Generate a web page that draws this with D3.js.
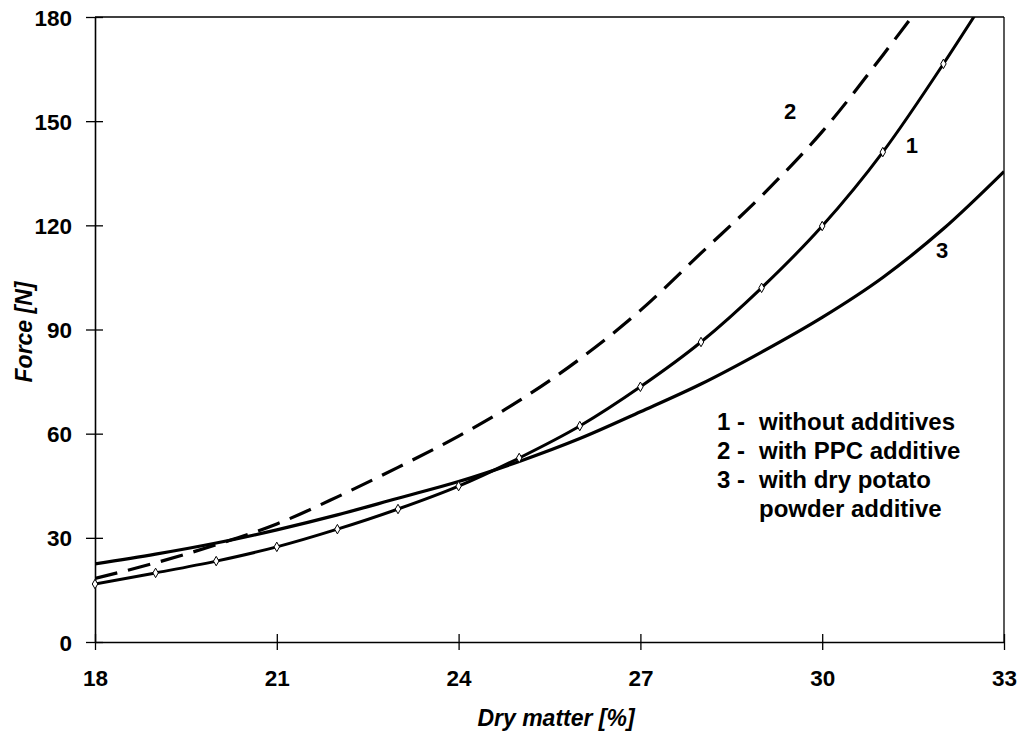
<!DOCTYPE html>
<html>
<head>
<meta charset="utf-8">
<script src="https://cdn.jsdelivr.net/npm/d3@7"></script>
<style>
  html, body { margin: 0; padding: 0; background: #fff; }
  svg { display: block; }
  text { font-family: "Liberation Sans", Arial, sans-serif; font-weight: bold; fill: #000; }
</style>
</head>
<body>
<svg id="chart" width="1023" height="742"></svg>
<script>
// ---- data ----
const xTicks = [18, 21, 24, 27, 30, 33];
const yTicks = [0, 30, 60, 90, 120, 150, 180];

// Series 1: without additives (markers at integer dry-matter values)
const s1X = [18, 19, 20, 21, 22, 23, 24, 25, 26, 27, 28, 29, 30, 31, 32];
const s1Y = [16.7, 19.9, 23.3, 27.4, 32.5, 38.3, 44.9, 53.0, 62.2, 73.5, 86.4, 102, 119.8, 141.1, 166.5];
const s1EndX = 32.52, s1EndY = 180.5;

// Series 2: with PPC additive (dashed)
const s2X = [18, 19, 20, 21, 22, 23, 24, 25, 26, 27, 28, 29, 30, 31, 31.5];
const s2Y = [18.3, 22.8, 28.0, 34.0, 41.8, 50.3, 59.3, 69.5, 81.5, 95.5, 112, 128.5, 147, 169, 180.5];

// Series 3: with dry potato powder additive
const s3X = [18, 19, 20, 21, 22, 23, 24, 25, 26, 27, 28, 29, 30, 31, 32, 33];
const s3Y = [22.5, 25.3, 28.5, 32.3, 36.6, 41.4, 46.2, 52.0, 58.6, 66.3, 74.3, 83.5, 93.5, 105, 119, 135.5];

const curveLabels = [
  { text: "2", x: 29.47, y: 153 },
  { text: "1", x: 31.48, y: 143 },
  { text: "3", x: 31.98, y: 113 }
];
const legendLines = ["1 -", "2 -", "3 -", ""];
const legendTexts = ["without additives", "with PPC additive", "with dry potato", "powder additive"];
const xTitle = "Dry matter [%]";
const yTitle = "Force [N]";

// ---- layout ----
const mLeft = 95, mRight = 1004, mTop = 17, mBottom = 642;
const svg = d3.select("#chart");
const x = d3.scaleLinear().domain([18, 33]).range([mLeft, mRight]);
const y = d3.scaleLinear().domain([0, 180]).range([mBottom, mTop]);

svg.append("defs").append("clipPath").attr("id", "plot")
  .append("rect").attr("x", mLeft).attr("y", mTop).attr("width", mRight - mLeft).attr("height", mBottom - mTop);

// frame (top and right)
svg.append("line").attr("x1", mLeft).attr("x2", mRight).attr("y1", mTop).attr("y2", mTop)
  .attr("stroke", "#000").attr("stroke-width", 1.3);
svg.append("line").attr("x1", mRight).attr("x2", mRight).attr("y1", mTop).attr("y2", mBottom)
  .attr("stroke", "#000").attr("stroke-width", 1.3);

// axes
const xAxis = d3.axisBottom(x).tickValues(xTicks).tickSize(0).tickPadding(0);
const gx = svg.append("g").attr("transform", `translate(0,${mBottom})`).call(xAxis);
gx.select(".domain").attr("stroke", "#000").attr("stroke-width", 1.6);
gx.selectAll(".tick line").remove();
gx.selectAll(".tick").append("line").attr("y1", -8).attr("y2", 8).attr("stroke", "#000").attr("stroke-width", 1.3);
gx.selectAll(".tick text").attr("y", 44).attr("dy", 0).attr("font-size", 22.5)
  .style("font-family", "'Liberation Sans', Arial, sans-serif").style("font-weight", "bold");

const yAxis = d3.axisLeft(y).tickValues(yTicks).tickSize(0).tickPadding(0);
const gy = svg.append("g").attr("transform", `translate(${mLeft},0)`).call(yAxis);
gy.select(".domain").attr("stroke", "#000").attr("stroke-width", 1.6);
gy.selectAll(".tick line").remove();
gy.selectAll(".tick").append("line").attr("x1", -9).attr("x2", 8).attr("stroke", "#000").attr("stroke-width", 1.3);
gy.selectAll(".tick text").attr("x", -23).attr("dy", "0.36em").attr("font-size", 22.5)
  .style("font-family", "'Liberation Sans', Arial, sans-serif").style("font-weight", "bold");

// axis titles
svg.append("text").attr("x", 556).attr("y", 726).attr("text-anchor", "middle")
  .attr("font-size", 23).attr("font-style", "italic").text(xTitle);
svg.append("text").attr("transform", `translate(32,332) rotate(-90)`)
  .attr("text-anchor", "middle").attr("font-size", 23).attr("font-style", "italic").text(yTitle);

// curves
const line = d3.line().x(d => x(d[0])).y(d => y(d[1])).curve(d3.curveMonotoneX);
const plot = svg.append("g").attr("clip-path", "url(#plot)");

const d1 = s1X.map((v, i) => [v, s1Y[i]]).concat([[s1EndX, s1EndY]]);
const d2 = s2X.map((v, i) => [v, s2Y[i]]);
const d3data = s3X.map((v, i) => [v, s3Y[i]]);

plot.append("path").attr("d", line(d3data)).attr("fill", "none").attr("stroke", "#000").attr("stroke-width", 3.2);
plot.append("path").attr("d", line(d2)).attr("fill", "none").attr("stroke", "#000").attr("stroke-width", 3.2)
  .attr("stroke-dasharray", "23,11");
plot.append("path").attr("d", line(d1)).attr("fill", "none").attr("stroke", "#000").attr("stroke-width", 3);

// markers (series 1)
const diamond = d3.symbol().type(d3.symbolDiamond).size(26);
svg.append("g").selectAll("path").data(s1X.map((v, i) => [v, s1Y[i]])).join("path")
  .attr("d", diamond).attr("transform", d => `translate(${x(d[0])},${y(d[1])})`)
  .attr("fill", "#fff").attr("stroke", "#000").attr("stroke-width", 1);

// curve labels
svg.append("g").selectAll("text").data(curveLabels).join("text")
  .attr("x", d => x(d.x)).attr("y", d => y(d.y)).attr("text-anchor", "middle").attr("dy", "0.36em")
  .attr("font-size", 22).text(d => d.text);

// legend text
const lg = svg.append("g");
legendLines.forEach((t, i) => {
  const yy = 421 + i * 29;
  if (t) lg.append("text").attr("x", 717).attr("y", yy).attr("dy", "0.36em").attr("font-size", 24).text(t);
  lg.append("text").attr("x", 759).attr("y", yy).attr("dy", "0.36em").attr("font-size", 24).text(legendTexts[i]);
});
</script>
</body>
</html>
